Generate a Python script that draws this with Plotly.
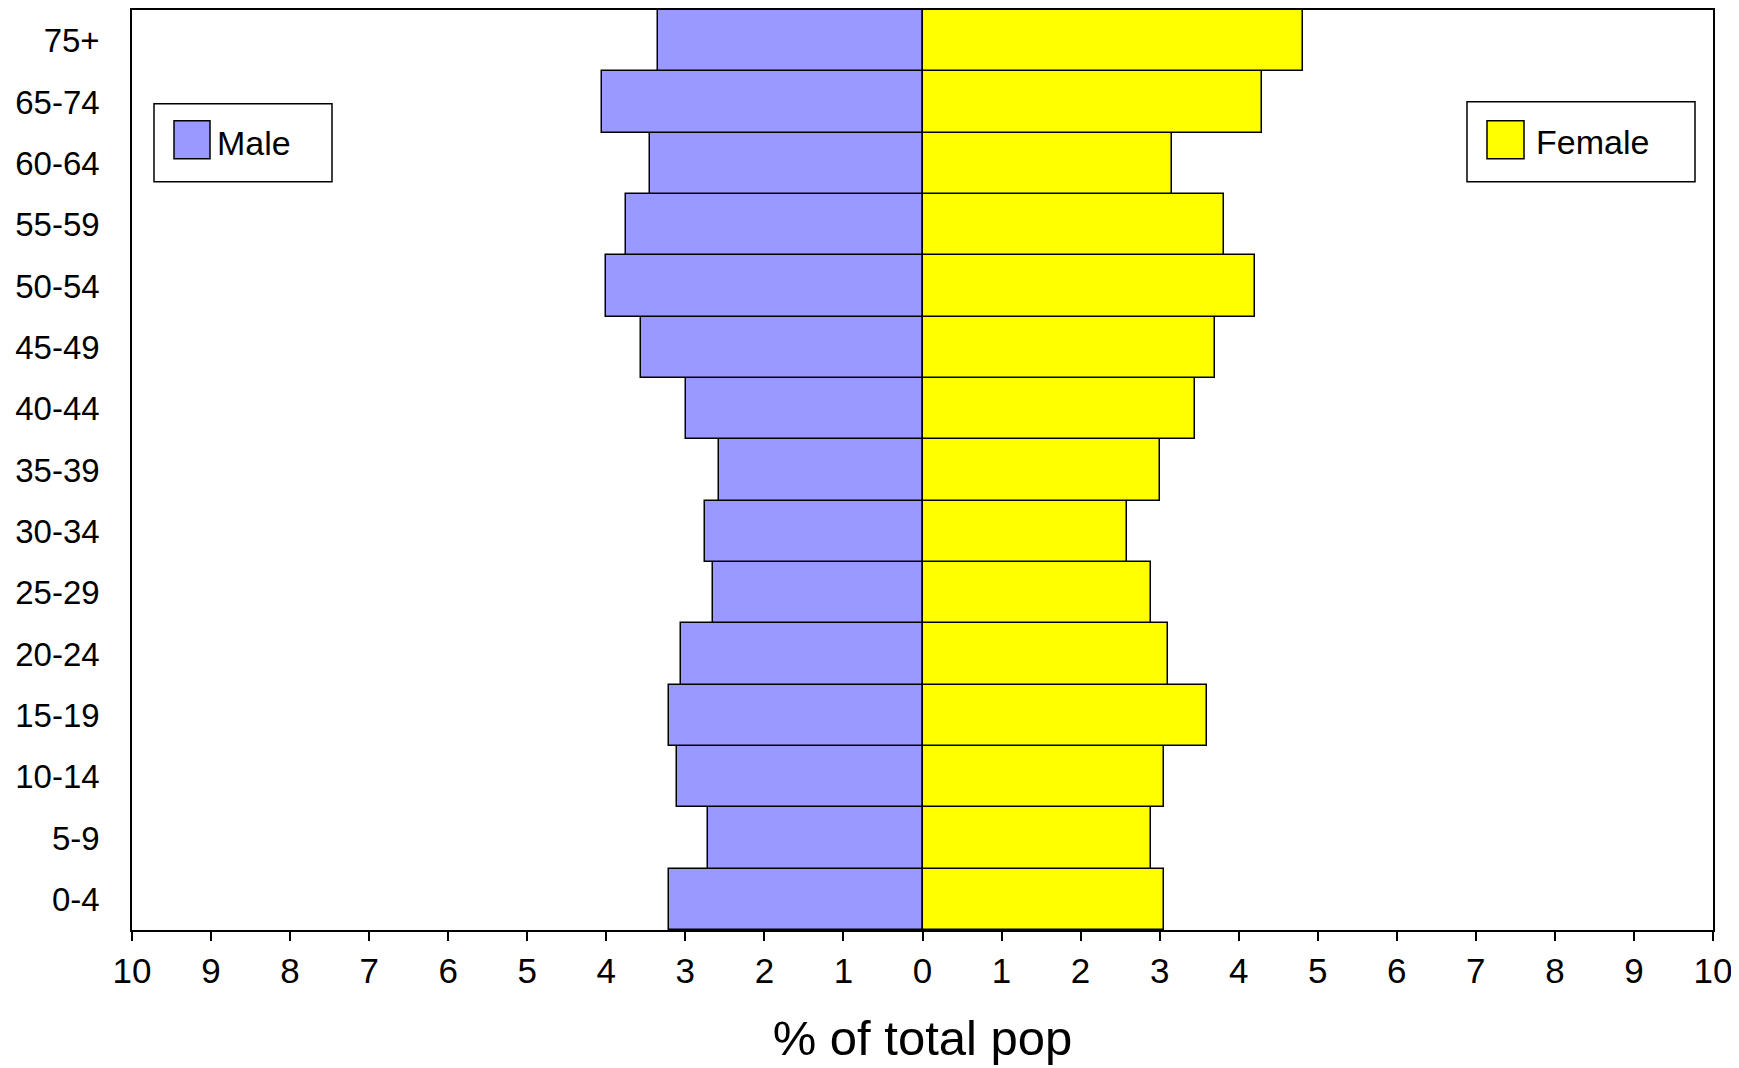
import plotly.graph_objects as go

age_groups = ["0-4", "5-9", "10-14", "15-19", "20-24", "25-29", "30-34", "35-39",
              "40-44", "45-49", "50-54", "55-59", "60-64", "65-74", "75+"]
male = [3.21, 2.71, 3.11, 3.21, 3.06, 2.65, 2.75, 2.57, 2.99, 3.56, 4.00, 3.75, 3.45, 4.06, 3.35]
female = [3.06, 2.89, 3.06, 3.60, 3.11, 2.89, 2.59, 3.00, 3.45, 3.70, 4.21, 3.81, 3.15, 4.29, 4.81]
tick_vals = list(range(-10, 11))
tick_text = [str(abs(v)) for v in tick_vals]

FONT = "Liberation Sans, Arial, sans-serif"

fig = go.Figure()
fig.add_trace(go.Bar(y=age_groups, x=[-v for v in male], orientation="h", name="Male",
                     marker=dict(color="#9999FF", line=dict(color="black", width=1.5)),
                     showlegend=False))
fig.add_trace(go.Bar(y=age_groups, x=female, orientation="h", name="Female",
                     marker=dict(color="#FFFF00", line=dict(color="black", width=1.5)),
                     showlegend=False))

OFF = 8  # page body margin
W, H = 1739 - OFF, 1068 - OFF
L, R, T, B = 124, 26, 0, 138
pw, ph = W - L - R, H - T - B

def px2paper(x, y):
    x -= OFF
    y -= OFF
    return (x - L) / pw, 1 - (y - T) / ph

shapes = []
annotations = []
def legend_box(x0, y0, x1, y1, sx0, sy0, sx1, sy1, color, text, tx):
    a = px2paper(x0, y0); b = px2paper(x1, y1)
    shapes.append(dict(type="rect", xref="paper", yref="paper", x0=a[0], y0=b[1], x1=b[0], y1=a[1],
                       line=dict(color="black", width=1.5), fillcolor="white", layer="above"))
    a = px2paper(sx0, sy0); b = px2paper(sx1, sy1)
    shapes.append(dict(type="rect", xref="paper", yref="paper", x0=a[0], y0=b[1], x1=b[0], y1=a[1],
                       line=dict(color="black", width=1.5), fillcolor=color, layer="above"))
    p = px2paper(tx, (y0 + y1) / 2)
    annotations.append(dict(xref="paper", yref="paper", x=p[0], y=p[1], text=text, showarrow=False,
                            xanchor="left", yanchor="middle", font=dict(size=34, color="black", family=FONT)))

legend_box(154, 102, 332, 180, 174, 119, 210, 157, "#9999FF", "Male", 215)
legend_box(1467, 100, 1695, 180, 1487, 119, 1524, 157, "#FFFF00", "Female", 1534)

fig.update_layout(
    width=W, height=H,
    margin=dict(l=L, r=R, t=T, b=B),
    paper_bgcolor="white", plot_bgcolor="white",
    barmode="relative", bargap=0,
    showlegend=False,
    shapes=shapes, annotations=annotations,
    font=dict(family=FONT, color="black"),
)
fig.update_xaxes(range=[-10, 10], tickvals=tick_vals, ticktext=tick_text,
                 tickfont=dict(size=35, color="black"),
                 ticks="outside", ticklen=9, tickwidth=1.5, tickcolor="black",
                 showline=True, linecolor="black", linewidth=1.5, mirror=True,
                 showgrid=False, zeroline=False,
                 title=dict(text="% of total pop", font=dict(size=49, color="black"), standoff=32))
fig.update_yaxes(type="category", categoryorder="array", categoryarray=age_groups,
                 tickfont=dict(size=33, color="black"), ticks="", ticklabelstandoff=24,
                 showline=True, linecolor="black", linewidth=1.5, mirror=True,
                 showgrid=False, zeroline=False)

fig.write_html("out.html")
